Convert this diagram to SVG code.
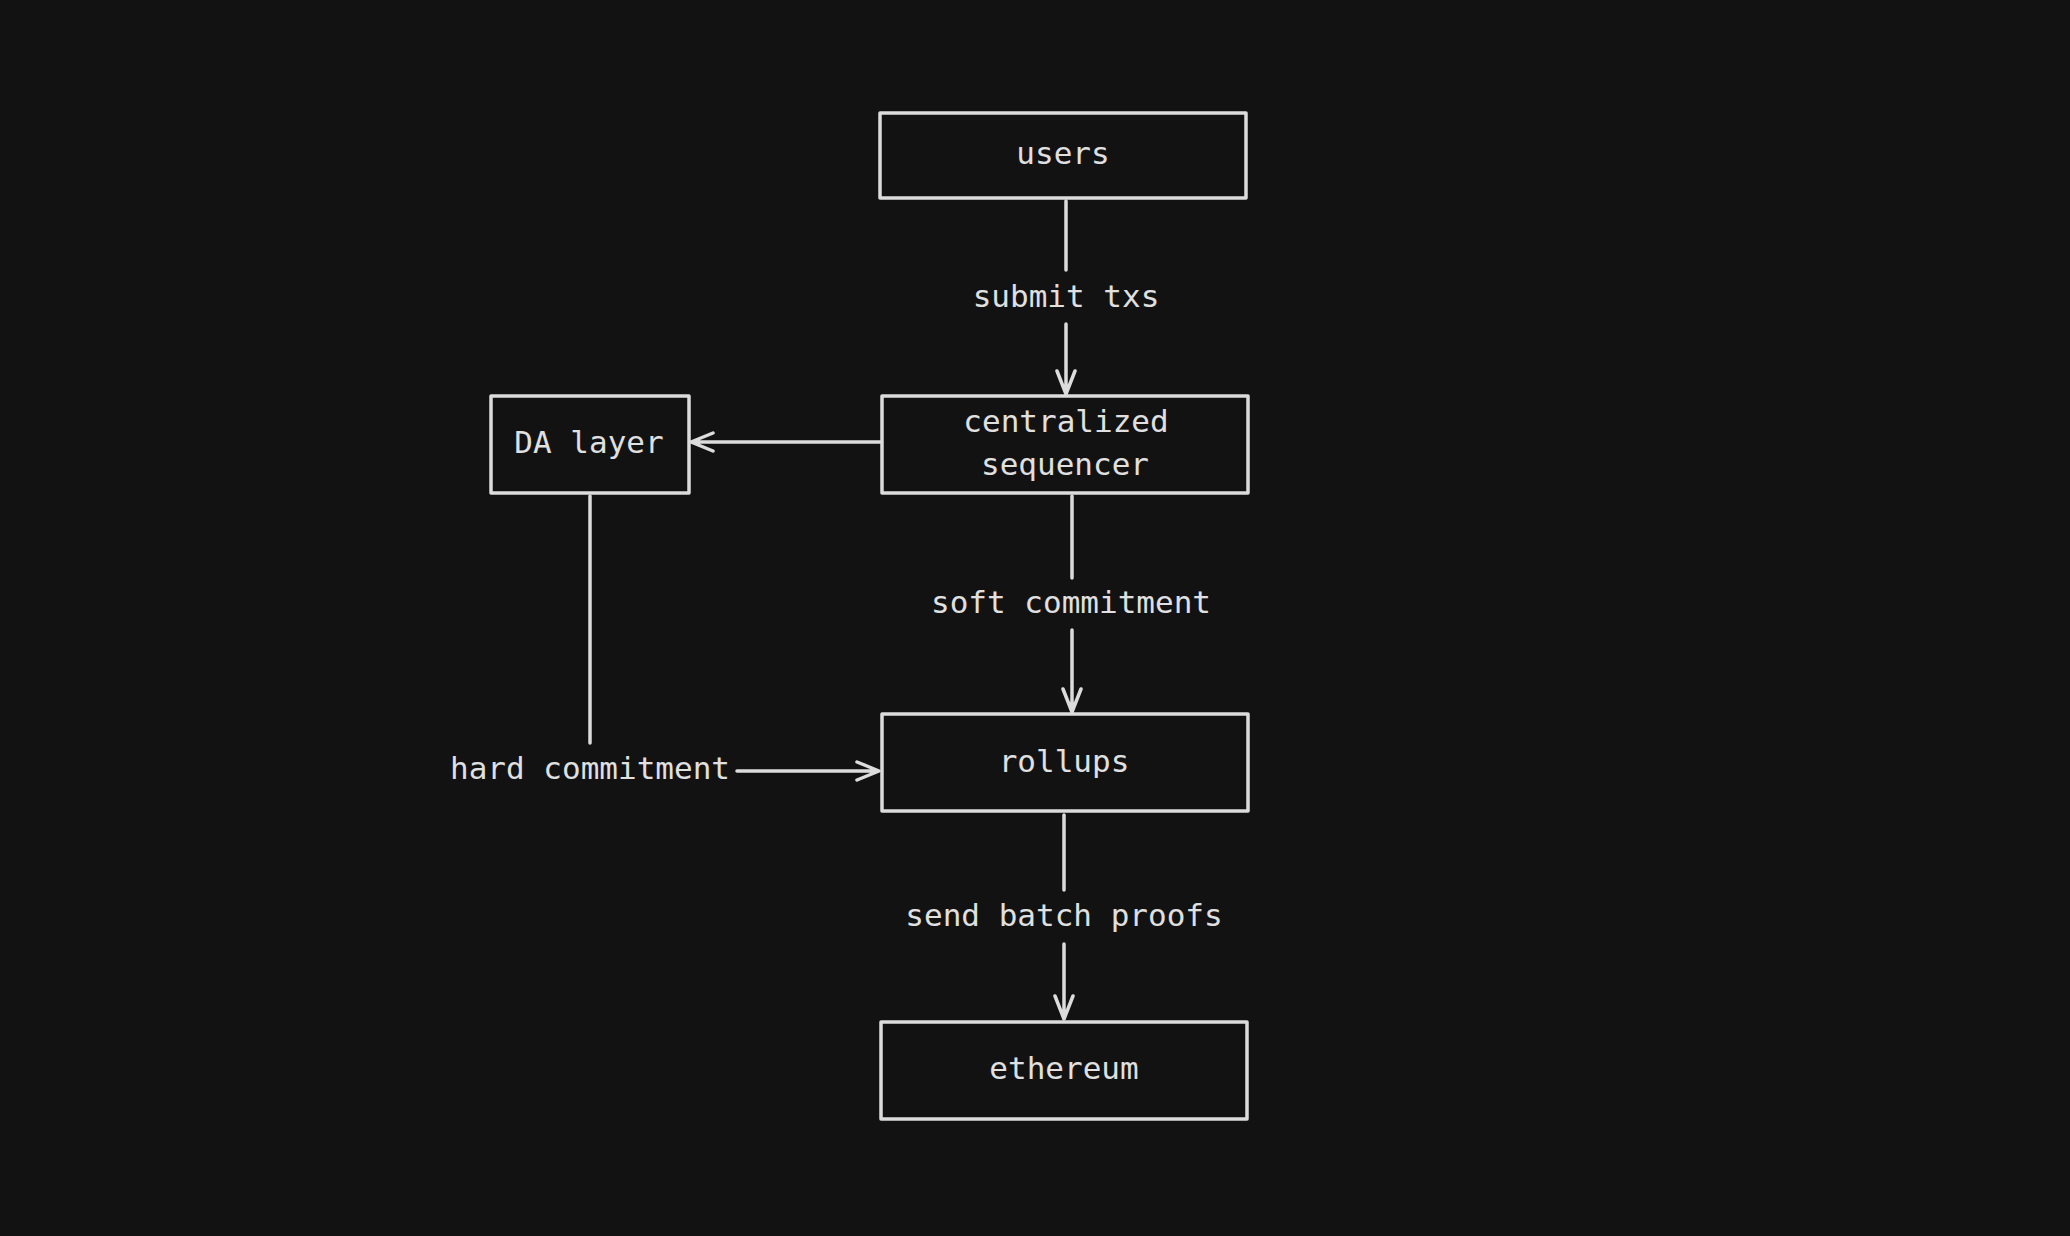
<svg xmlns="http://www.w3.org/2000/svg" width="2070" height="1236" viewBox="0 0 2070 1236">
<style>
.box{fill:#121212;stroke:#dcdcdc;stroke-width:3.5;stroke-linejoin:round}
.t{font-family:"DejaVu Sans Mono","Liberation Mono",monospace;font-size:31px;fill:#e0e0e0;text-anchor:middle}
.c{fill:none;stroke:#dcdcdc;stroke-width:3.5;stroke-linecap:round;stroke-linejoin:round}
</style>
<rect width="2070" height="1236" fill="#121212"/>
<g id="connectors">
  <g id="users-seq">
    <path class="c" d="M1066 201 V270 M1066 324 V394 M1057 371 L1066 394 L1075 371"/>
    <text class="t" x="1066" y="307">submit txs</text>
  </g>
  <g id="seq-da">
    <path class="c" d="M882 442 H691 M713 433 L691 442 L713 451"/>
  </g>
  <g id="seq-rollups">
    <path class="c" d="M1072 496 V578 M1072 630 V712 M1063 689 L1072 712 L1081 689"/>
    <text class="t" x="1071" y="613">soft commitment</text>
  </g>
  <g id="da-rollups">
    <path class="c" d="M590 496 V743 M737 771 H879 M857 762 L879 771 L857 780"/>
    <text class="t" x="590" y="779">hard commitment</text>
  </g>
  <g id="rollups-eth">
    <path class="c" d="M1064 815 V890 M1064 944 V1019 M1055 996 L1064 1019 L1073 996"/>
    <text class="t" x="1064" y="926">send batch proofs</text>
  </g>
</g>
<g id="users">
  <rect class="box" x="880" y="113" width="366" height="85"/>
  <text class="t" x="1063" y="164">users</text>
</g>
<g id="sequencer">
  <rect class="box" x="882" y="396" width="366" height="97"/>
  <text class="t" x="1066" y="432">centralized</text>
  <text class="t" x="1065" y="475">sequencer</text>
</g>
<g id="da-layer">
  <rect class="box" x="491" y="396" width="198" height="97"/>
  <text class="t" x="589" y="453">DA layer</text>
</g>
<g id="rollups">
  <rect class="box" x="882" y="714" width="366" height="97"/>
  <text class="t" x="1064" y="772">rollups</text>
</g>
<g id="ethereum">
  <rect class="box" x="881" y="1022" width="366" height="97"/>
  <text class="t" x="1064" y="1079">ethereum</text>
</g>
</svg>
